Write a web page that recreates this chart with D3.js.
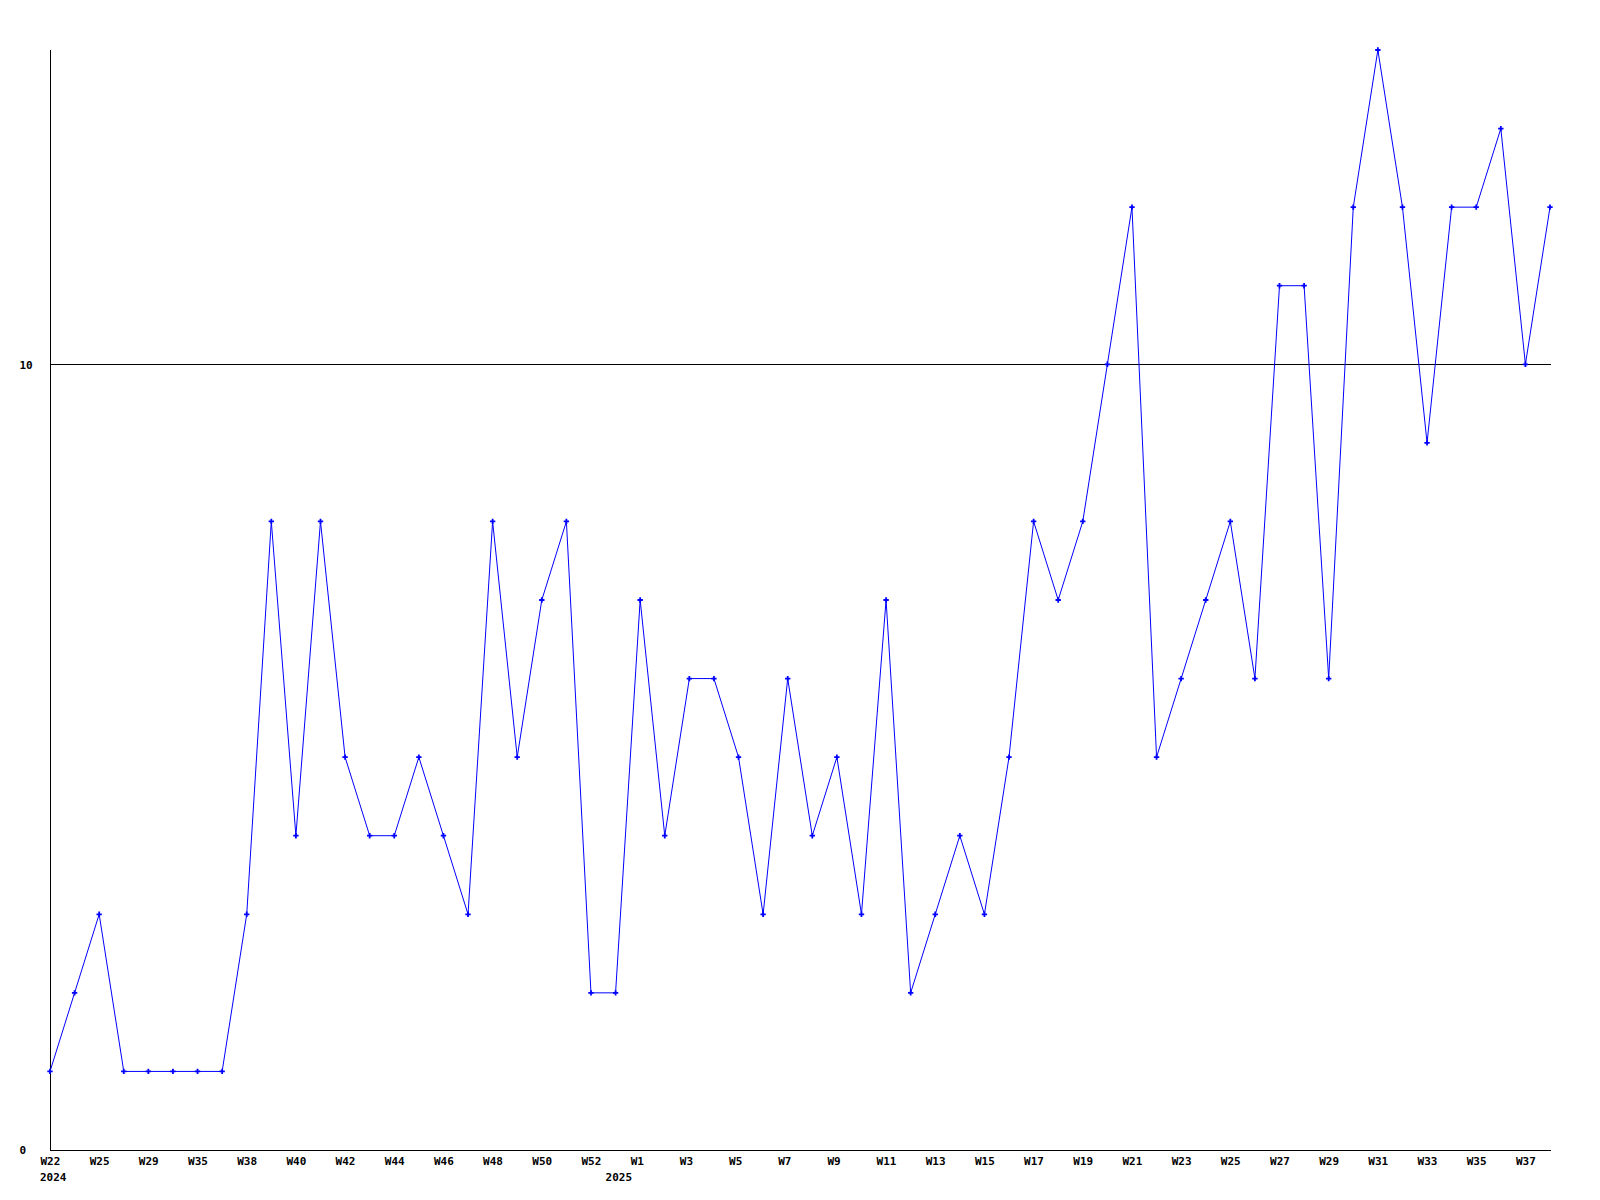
<!DOCTYPE html>
<html>
<head>
<meta charset="utf-8">
<script src="https://cdn.jsdelivr.net/npm/d3@7"></script>
<style>
  body { margin: 0; background: #fff; }
  text { font-family: "DejaVu Sans Mono", "Liberation Mono", monospace; font-size: 11px; font-weight: bold; fill: #000; }
</style>
</head>
<body>
<div id="chart"></div>
<script>
// weekly counts, week labels and year per point
const weeks = ["W22", "W23", "W25", "W27", "W29", "W31", "W35", "W36", "W38", "W39",
  "W40", "W41", "W42", "W43", "W44", "W45", "W46", "W47", "W48", "W49",
  "W50", "W51", "W52", "W0", "W1", "W2", "W3", "W4", "W5", "W6",
  "W7", "W8", "W9", "W10", "W11", "W12", "W13", "W14", "W15", "W16",
  "W17", "W18", "W19", "W20", "W21", "W22", "W23", "W24", "W25", "W26",
  "W27", "W28", "W29", "W30", "W31", "W32", "W33", "W34", "W35", "W36",
  "W37", "W38"];
const years = [2024, 2024, 2024, 2024, 2024, 2024, 2024, 2024, 2024, 2024,
  2024, 2024, 2024, 2024, 2024, 2024, 2024, 2024, 2024, 2024,
  2024, 2024, 2024, 2025, 2025, 2025, 2025, 2025, 2025, 2025,
  2025, 2025, 2025, 2025, 2025, 2025, 2025, 2025, 2025, 2025,
  2025, 2025, 2025, 2025, 2025, 2025, 2025, 2025, 2025, 2025,
  2025, 2025, 2025, 2025, 2025, 2025, 2025, 2025, 2025, 2025,
  2025, 2025];
const values = [1, 2, 3, 1, 1, 1, 1, 1, 3, 8,
  4, 8, 5, 4, 4, 5, 4, 3, 8, 5,
  7, 8, 2, 2, 7, 4, 6, 6, 5, 3,
  6, 4, 5, 3, 7, 2, 3, 4, 3, 5,
  8, 7, 8, 10, 12, 5, 6, 7, 8, 6,
  11, 11, 6, 12, 14, 12, 9, 12, 12, 13,
  10, 12];
const yTicks = [0, 10];
const refValue = 10;

const data = weeks.map((w, i) => ({ key: years[i] + "-" + w, week: w, year: years[i], value: values[i] }));

const width = 1600, height = 1200;
const plotLeft = 50, plotRight = 1550, plotTop = 50, plotBottom = 1150;

const svg = d3.select("#chart").append("svg")
  .attr("width", width)
  .attr("height", height);

const x = d3.scalePoint()
  .domain(data.map(d => d.key))
  .range([plotLeft, plotRight]);

const y = d3.scaleLinear()
  .domain([0, 14])
  .range([plotBottom, plotTop]);

// reference line at 10
svg.append("line")
  .attr("x1", plotLeft).attr("x2", plotRight + 1)
  .attr("y1", Math.round(y(refValue)) + 0.5)
  .attr("y2", Math.round(y(refValue)) + 0.5)
  .attr("stroke", "#000")
  .attr("shape-rendering", "crispEdges");

// y axis
const yAxis = svg.append("g")
  .attr("transform", `translate(${plotLeft + 0.5},0)`)
  .call(d3.axisLeft(y).tickValues(yTicks).tickSize(0).tickFormat(d3.format("d")));
yAxis.select(".domain").attr("d", `M0,${plotTop}V${plotBottom}`).attr("stroke", "#000").attr("shape-rendering", "crispEdges");
yAxis.selectAll("text")
  .attr("text-anchor", "start")
  .attr("x", 19 - plotLeft)
  .attr("dy", "0.35em");
yAxis.attr("font-family", null).attr("font-size", null);

// x axis, every other week labelled
const labelKeys = data.filter((d, i) => i % 2 === 0).map(d => d.key);
const xAxis = svg.append("g")
  .attr("transform", `translate(0,${plotBottom + 0.5})`)
  .call(d3.axisBottom(x).tickValues(labelKeys).tickSize(0)
    .tickFormat(k => data.find(d => d.key === k).week));
xAxis.select(".domain").attr("d", `M${plotLeft},0H${plotRight + 1}`).attr("stroke", "#000").attr("shape-rendering", "crispEdges");
xAxis.selectAll("text")
  .attr("text-anchor", "start")
  .attr("x", -10)
  .attr("y", 11)
  .attr("dy", "0.35em");
xAxis.attr("font-family", null).attr("font-size", null);

// year labels at first point of each year
const firstOfYear = data.filter((d, i) => i === 0 || d.year !== data[i - 1].year);
svg.selectAll(".year")
  .data(firstOfYear)
  .enter().append("text")
  .attr("class", "year")
  .attr("x", d => x(d.key) - 10)
  .attr("y", plotBottom + 27)
  .attr("dy", "0.35em")
  .text(d => d.year);

// the series line
const line = d3.line()
  .x(d => x(d.key))
  .y(d => y(d.value));

svg.append("path")
  .datum(data)
  .attr("fill", "none")
  .attr("stroke", "#0000ff")
  .attr("stroke-width", 1)
  .attr("d", line);

// small cross markers
svg.selectAll(".marker")
  .data(data)
  .enter().append("path")
  .attr("class", "marker")
  .attr("transform", d => `translate(${x(d.key)},${y(d.value)})`)
  .attr("d", d3.symbol().type(d3.symbolCross).size(16))
  .attr("fill", "#0000ff");
</script>
</body>
</html>
